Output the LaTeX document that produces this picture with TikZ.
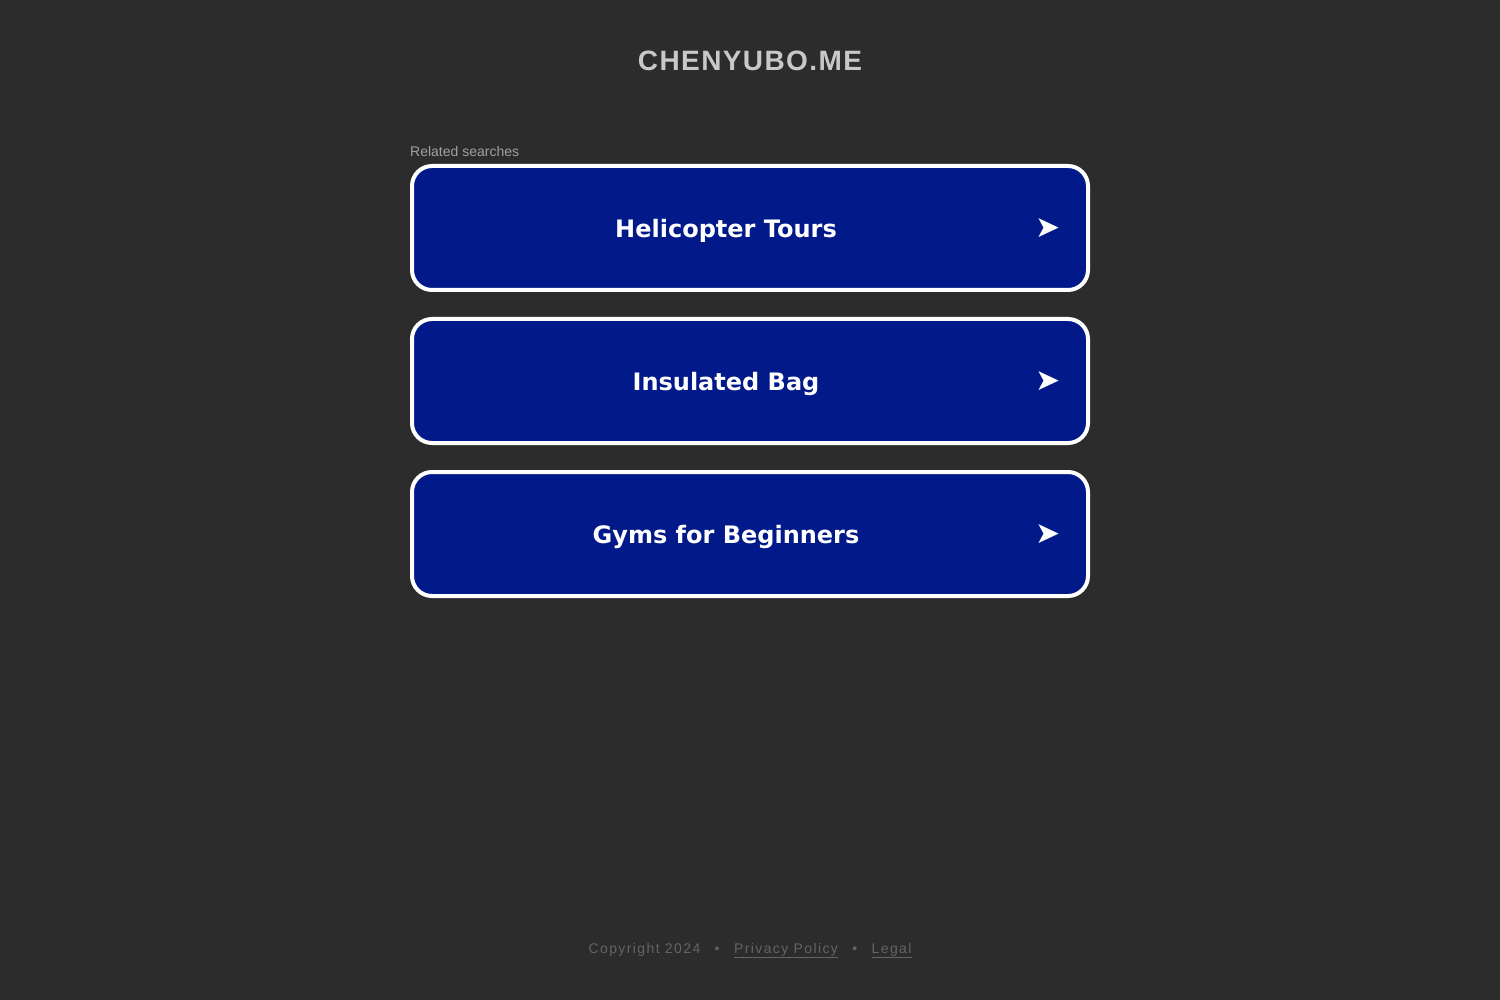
\documentclass[tikz,border=0pt]{standalone}
\usepackage{xcolor}
\usepackage{fontspec}
\setmainfont{Liberation Sans}
\newfontfamily\titlefont[LetterSpace=5]{Liberation Sans}
\newfontfamily\footfont[LetterSpace=10]{Liberation Sans}
\newfontfamily\btnfont{DejaVu Sans}
\usetikzlibrary{positioning,calc}
\definecolor{pagebg}{RGB}{44,44,44}
\definecolor{btnblue}{RGB}{2,26,137}
\definecolor{titlegray}{RGB}{200,200,200}
\definecolor{smallgray}{RGB}{160,160,160}
\definecolor{footgray}{RGB}{100,100,100}

\begin{document}
\begin{tikzpicture}[x=1pt,y=-1pt,
    btnbox/.style={draw=white,line width=4pt,fill=btnblue,rounded corners=20pt,
      minimum width=676pt,minimum height=124pt,inner sep=0pt},
    btntext/.style={text=white,font=\btnfont\fontsize{24}{28}\selectfont\bfseries},
    btnarrow/.style={text=white,font=\btnfont\fontsize{30}{34}\selectfont},
    foottext/.style={text=footgray,font=\footfont\fontsize{14}{16}\selectfont,inner sep=0pt,anchor=base}]
    % page
    \fill[pagebg] (0,0) rectangle (1500,1000);
    \useasboundingbox (0,0) rectangle (1500,1000);

    % header
    \node[text=titlegray,font=\titlefont\fontsize{28}{32}\selectfont\bfseries] (title) at (750,61) {CHENYUBO.ME};
    \node[text=smallgray,font=\fontsize{14}{16}\selectfont,anchor=base west,inner sep=0pt] (related) at (410,157) {Related searches};

    % buttons
    \node[btnbox] (b1) at (750,228) {};
    \node[btntext] (t1) at ($(b1.center)+(-24,3)$) {Helicopter Tours};
    \node[btnarrow] (a1) at ($(b1.center)+(298,0)$) {➤};

    \node[btnbox] (b2) at (750,381) {};
    \node[btntext] (t2) at ($(b2.center)+(-24,3)$) {Insulated Bag};
    \node[btnarrow] (a2) at ($(b2.center)+(298,0)$) {➤};

    \node[btnbox] (b3) at (750,534) {};
    \node[btntext] (t3) at ($(b3.center)+(-24,3)$) {Gyms for Beginners};
    \node[btnarrow] (a3) at ($(b3.center)+(298,0)$) {➤};

    % footer
    \node[foottext] (privacy) at (786,953) {\underline{Privacy Policy}};
    \node[foottext,anchor=base east] (dot1) at ($(privacy.base west)+(-14,0)$) {•};
    \node[foottext,anchor=base east] (copy) at ($(dot1.base west)+(-14,0)$) {Copyright 2024};
    \node[foottext,anchor=base west] (dot2) at ($(privacy.base east)+(14,0)$) {•};
    \node[foottext,anchor=base west] (legal) at ($(dot2.base east)+(14,0)$) {\underline{Legal}};
\end{tikzpicture}
\end{document}
